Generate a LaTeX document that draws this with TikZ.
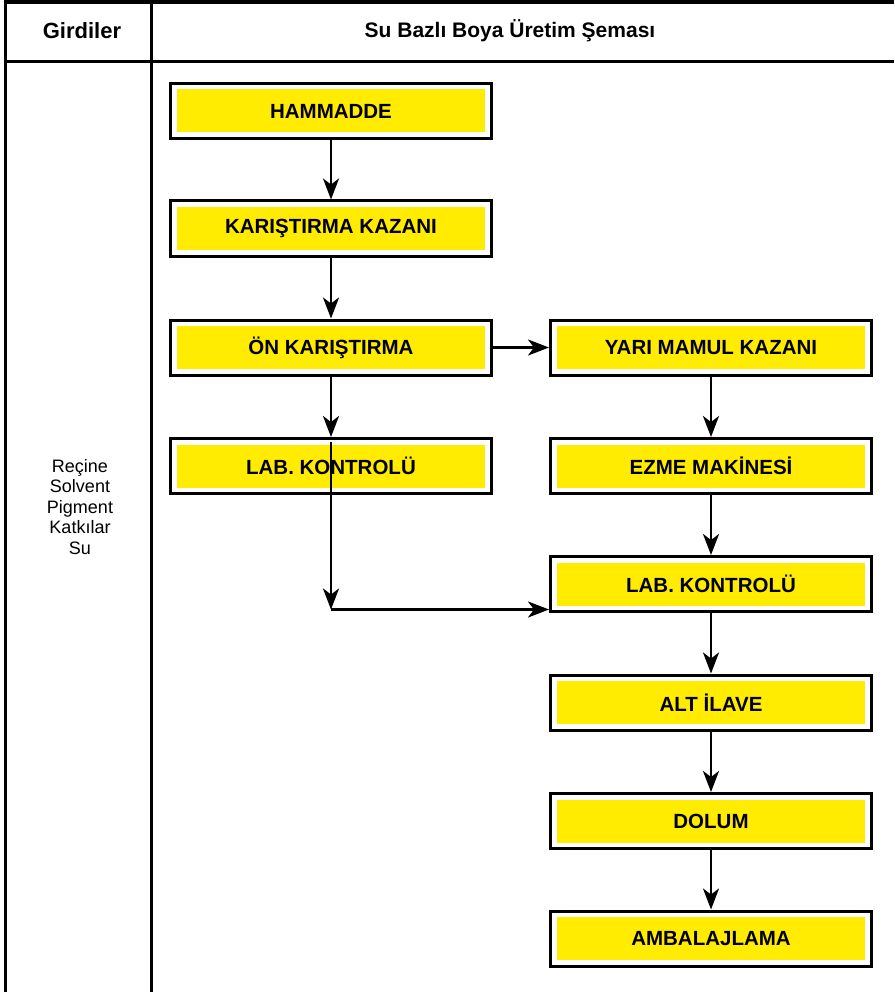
\documentclass[tikz,border=0pt]{standalone}
\usepackage{fontspec}
\setmainfont{Liberation Sans}
\usetikzlibrary{arrows.meta}
\definecolor{boxyellow}{RGB}{255,236,0}
\begin{document}
\begin{tikzpicture}[x=1pt,y=-1pt,
  frameline/.style={line width=3.5pt},
  procbox/.style={draw=black, line width=3pt, fill=white, minimum width=321pt, minimum height=55pt, inner sep=0pt,
    font=\fontsize{20.5}{24}\selectfont\bfseries,
    path picture={\fill[boxyellow] ([xshift=6.5pt,yshift=-6pt]path picture bounding box.north west) rectangle ([xshift=-6.5pt,yshift=6pt]path picture bounding box.south east);}},
  flow/.style={line width=2.8pt, -{Stealth[length=21pt,width=16pt,inset=6pt]}},
  headtext/.style={font=\fontsize{21}{25}\selectfont\bfseries},
  sidetext/.style={font=\fontsize{18}{20.5}\selectfont, align=center}]
\useasboundingbox (0,0) rectangle (894,992);
% frame
\draw[frameline] (5.5,992) -- (5.5,2) -- (894,2);
\draw[frameline] (4,61.5) -- (894,61.5);
\draw[frameline] (151.5,0) -- (151.5,992);
% header
\node[headtext, font=\fontsize{22}{25}\selectfont\bfseries] (hgird) at (82,31) {Girdiler};
\node[headtext] (hsema) at (510,31) {Su Bazlı Boya Üretim Şeması};
\node[sidetext] (inputs) at (80,507) {Reçine\\Solvent\\Pigment\\Katkılar\\Su};
% boxes
\node[procbox] (ham) at (331,111) {HAMMADDE};
\node[procbox] (kar) at (331,228.5) {KARIŞTIRMA KAZANI};
\node[procbox] (on) at (331,347.5) {ÖN KARIŞTIRMA};
\node[procbox] (labL) at (331,466) {LAB. KONTROLÜ};
\node[procbox] (yari) at (711,347.5) {YARI MAMUL KAZANI};
\node[procbox] (ezme) at (711,466) {EZME MAKİNESİ};
\node[procbox] (labR) at (711,584) {LAB. KONTROLÜ};
\node[procbox] (alt) at (711,702.5) {ALT İLAVE};
\node[procbox] (dol) at (711,821) {DOLUM};
\node[procbox] (amb) at (711,938.5) {AMBALAJLAMA};
% connectors
\draw[flow] (ham) -- (kar);
\draw[flow] (kar) -- (on);
\draw[flow] (on) -- (labL);
\draw[flow] (on) -- (yari);
\draw[flow] (yari) -- (ezme);
\draw[flow] (ezme) -- (labR);
\draw[flow] (labR) -- (alt);
\draw[flow] (alt) -- (dol);
\draw[flow] (dol) -- (amb);
\coordinate (s1) at ([yshift=-5pt]labL.north);
\coordinate (c1) at (331,609.5);
\draw[flow] (s1) -- (c1);
\draw[flow] (c1) -- (c1 -| labR.west);
\end{tikzpicture}
\end{document}
